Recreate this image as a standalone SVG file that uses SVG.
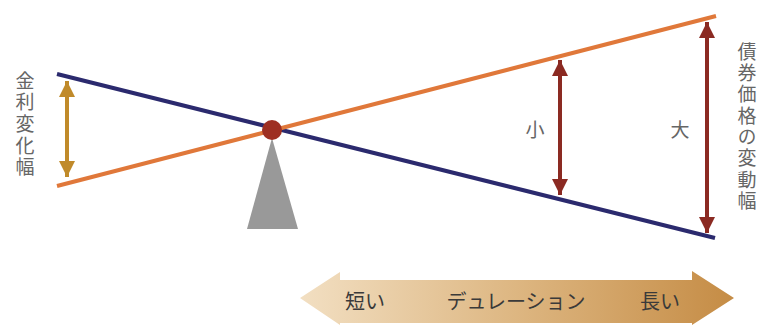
<svg xmlns="http://www.w3.org/2000/svg" width="762" height="325" viewBox="0 0 762 325">
<style>
.lbl{font-family:"Noto Sans CJK JP","Noto Sans CJK SC",sans-serif;fill:#666;font-size:19px;text-anchor:middle}
.vlbl{font-family:"Noto Sans CJK JP","Noto Sans CJK SC",sans-serif;fill:#666;font-size:19px;writing-mode:vertical-rl;text-anchor:start}
.blbl{font-family:"Noto Sans CJK JP","Noto Sans CJK SC",sans-serif;fill:#3a3a3a;font-size:20px;text-anchor:middle}
.line{fill:none;stroke-width:4;stroke-linecap:butt}
</style>
<defs>
<linearGradient id="dur" x1="0" y1="0" x2="1" y2="0">
<stop offset="0" stop-color="#f2dfc2"/>
<stop offset="0.5" stop-color="#ddb681"/>
<stop offset="1" stop-color="#c58c45"/>
</linearGradient>
<marker id="hg" viewBox="0 0 10 10" refX="10" refY="5" markerWidth="4.5" markerHeight="4" orient="auto-start-reverse" markerUnits="strokeWidth">
<path d="M0,0 L10,5 L0,10 z" fill="#c08a2a"/>
</marker>
<marker id="hr" viewBox="0 0 10 10" refX="10" refY="5" markerWidth="4.5" markerHeight="4" orient="auto-start-reverse" markerUnits="strokeWidth">
<path d="M0,0 L10,5 L0,10 z" fill="#8b2a22"/>
</marker>
</defs>
<rect width="762" height="325" fill="#fff"/>
<g id="lines">
<line class="line" x1="57" y1="74" x2="715" y2="238" stroke="#2b2a6e"/>
<line class="line" x1="57" y1="186" x2="716" y2="16" stroke="#e0783a"/>
</g>
<g id="fulcrum">
<polygon points="272,138 298,229 247,229" fill="#999"/>
<circle cx="272" cy="130" r="10" fill="#9e2f22"/>
</g>
<g id="connectors">
<line x1="67" y1="81" x2="67" y2="177" stroke="#c08a2a" stroke-width="4" marker-start="url(#hg)" marker-end="url(#hg)"/>
<line x1="560" y1="60" x2="560" y2="195" stroke="#8b2a22" stroke-width="4" marker-start="url(#hr)" marker-end="url(#hr)"/>
<line x1="707" y1="22" x2="707" y2="233" stroke="#8b2a22" stroke-width="4" marker-start="url(#hr)" marker-end="url(#hr)"/>
</g>
<g id="rate-label">
<text class="vlbl" x="25" y="71" letter-spacing="2.6">金利変化幅</text>
</g>
<g id="price-label">
<text class="vlbl" x="747" y="42" letter-spacing="2.3">債券価格の変動幅</text>
</g>
<g id="small-label"><text class="lbl" x="535" y="137" font-size="20">小</text></g>
<g id="large-label"><text class="lbl" x="680" y="137" font-size="20">大</text></g>
<g id="duration">
<polygon points="300,298 340,272 340,280 692,280 692,271 734,298 692,325 692,323 340,323 340,325" fill="url(#dur)"/>
<text class="blbl" x="365" y="309">短い</text>
<text class="blbl" x="516" y="309">デュレーション</text>
<text class="blbl" x="660" y="309">長い</text>
</g>
</svg>
